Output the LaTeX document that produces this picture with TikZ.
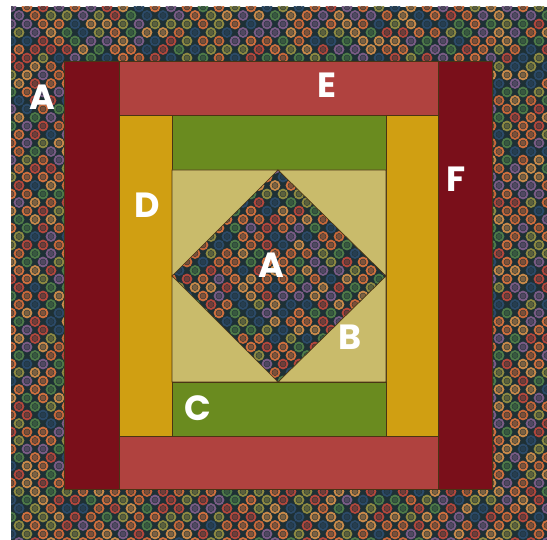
\documentclass[tikz,border=0pt]{standalone}
\usepackage{fontspec}
\setsansfont{Poppins}
\definecolor{base}{HTML}{1E3035}
\definecolor{c1}{HTML}{C8683A}
\definecolor{c2}{HTML}{B4473C}
\definecolor{c3}{HTML}{8E8A42}
\definecolor{c4}{HTML}{7A5C86}
\definecolor{c5}{HTML}{4E7A48}
\definecolor{c6}{HTML}{C98A4A}
\definecolor{c7}{HTML}{D0703E}
\definecolor{c8}{HTML}{2C4A68}
\definecolor{dred}{HTML}{7A0F1A}
\definecolor{rred}{HTML}{B0423F}
\definecolor{yel}{HTML}{D09F12}
\definecolor{grn}{HTML}{6A8B1F}
\definecolor{kha}{HTML}{C9BB6B}
\definecolor{seam}{HTML}{4A3414}
\begin{document}
\begin{tikzpicture}[x=1pt,y=-1pt,
  piece/.style={draw=seam, line width=0.7pt},
  lbl/.style={text=white, font=\sffamily\bfseries\fontsize{35}{35}\selectfont, inner sep=0pt}]
\useasboundingbox (0,0) rectangle (547,540);
\fill[white] (0,0) rectangle (547,540);
\fill[base] (11,7) rectangle (547,540);
\begin{scope}
\clip (11,7) rectangle (547,540);
\pgfmathsetseed{7}
\foreach \j in {0,...,63} {
  \foreach \i in {0,...,34} {
    \pgfmathsetmacro\xx{11+\i*16+mod(\j,2)*8}
    \pgfmathsetmacro\yy{7+\j*8.5}
    \pgfmathrandominteger{\k}{1}{8}
    \fill[color=c\k!55!base] (\xx,\yy) circle (2.8);
    \draw[line width=1.8pt, color=c\k] (\xx,\yy) circle (4.4);
  }
}
\end{scope}
% dark red side bands (F)
\filldraw[piece, fill=dred] (64,61) rectangle (119,489);
\filldraw[piece, fill=dred] (438,61) rectangle (492,489);
% red bands (E)
\filldraw[piece, fill=rred] (119,61) rectangle (438,115);
\filldraw[piece, fill=rred] (119,436) rectangle (438,489);
% yellow bands (D)
\filldraw[piece, fill=yel] (119,115) rectangle (172,436);
\filldraw[piece, fill=yel] (386,115) rectangle (438,436);
% green bands (C)
\filldraw[piece, fill=grn] (172,115) rectangle (386,170);
\filldraw[piece, fill=grn] (172,382) rectangle (386,436);
% khaki corner triangles (B)
\filldraw[piece, fill=kha] (172,170) -- (278,170) -- (172,276) -- cycle;
\filldraw[piece, fill=kha] (278,170) -- (386,170) -- (386,276) -- cycle;
\filldraw[piece, fill=kha] (386,276) -- (386,382) -- (278,382) -- cycle;
\filldraw[piece, fill=kha] (278,382) -- (172,382) -- (172,276) -- cycle;
% labels
\node[lbl] (lA1) at (42,97) {A};
\node[lbl] (lE) at (327,85) {E};
\node[lbl] (lF) at (456,179) {F};
\node[lbl] (lD) at (147,205) {D};
\node[lbl] (lA2) at (271,265) {A};
\node[lbl] (lB) at (350,337) {B};
\node[lbl] (lC) at (198,408) {C};
\end{tikzpicture}
\end{document}
